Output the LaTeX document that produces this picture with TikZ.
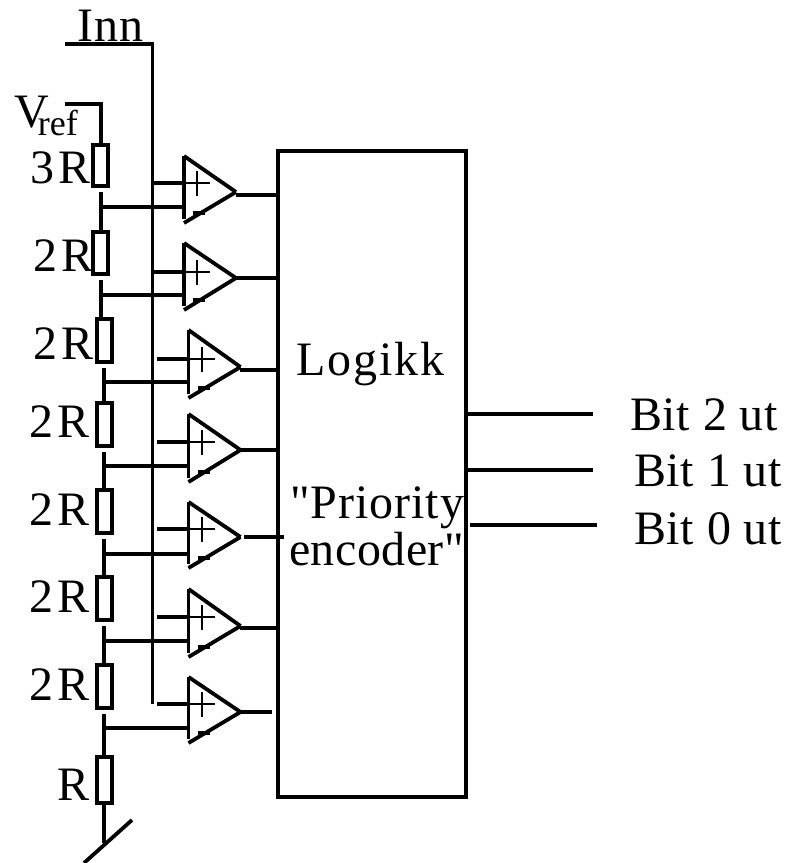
\documentclass[tikz,border=0pt]{standalone}
\usepackage{fontspec}
\setmainfont{Liberation Serif}[Ligatures=TeXOff]
\usetikzlibrary{calc}

\tikzset{
	wire/.style={line width=3.8pt},
	sign/.style={line width=2pt},
	resistor/.style={draw, line width=4pt, minimum width=15pt, inner sep=0pt, outer sep=0pt},
	txt/.style={anchor=base west, inner sep=0pt, font=\fontsize{48}{48}\selectfont},
}

\begin{document}
\begin{tikzpicture}[x=1pt, y=-1pt]

	\useasboundingbox (0,0) rectangle (796,863);

	% ---- logic block

	\node[draw, line width=4pt, minimum width=188pt, minimum height=646pt, inner sep=0pt, outer sep=0pt] (logikk) at (372,473.5) {};

	% ---- resistors

	\foreach \i/\rx/\ry/\rh in {1/100.7/165.5/41, 2/100.7/253/42, 3/104.3/340.5/43, 4/104.3/424.5/43,
		5/104.3/511.5/43, 6/104.3/598.5/43, 7/104.3/686.5/43, 8/104.3/780/46} {
		\node[resistor, minimum height=\rh pt] (R\i) at (\rx,\ry) {};
	}

	% ---- resistor chain

	\coordinate (Vin) at (65,104);
	\coordinate (Gnd) at (104.3,843);

	\draw[wire] (Vin) -- (R1.north |- Vin) -- (R1.north);

	\foreach \i/\j in {1/2,2/3,3/4,4/5,5/6,6/7,7/8} {
		\draw[wire] ($(R\i.south)+(0,6)$) -- (R\i.south |- R\j.north);
	}

	\draw[wire] (R8.south) -- (Gnd);
	\draw[wire] (84,863) -- (132,820);

	% ---- input line

	\coordinate (In) at (65,44);
	\coordinate (Ie) at (152.5,704);

	\draw[wire] (In) -- (Ie |- In) -- (Ie);

	% ---- comparators

	\foreach \i/\rx/\tap/\plus/\ox/\top/\tipy/\bot/\outy/\outa/\outb/\ina in {
		1/100.7/207/183/184/156/192/223/195/236/277/153,
		2/100.7/295/272/184/243/278/310/278/236/277/153,
		3/104.3/382/359/188.5/330/367/398/370/240/277/157,
		4/104.3/466/442/188.5/414/450/482/450/240/277/157,
		5/104.3/554/529/188.5/502/537/568/537/244/284/157,
		6/104.3/641/617/188.5/589/626/657/628/240/277/157,
		7/104.3/728/704/188.5/677/712/743/712/240/272/157} {

		\coordinate (A\i) at (\ox,\top);
		\coordinate (B\i) at (\ox,\bot);
		\coordinate (C\i) at (\ox+52,\tipy);

		\draw[wire] (A\i) -- (\ox,\bot-4);
		\draw[wire] (A\i) -- (C\i);
		\draw[wire] (B\i) -- (C\i);

		\draw[wire] (\ina,\plus) -- (\ox,\plus);
		\draw[wire] (\rx,\tap) -- (\ox,\tap);
		\draw[wire] (\outa,\outy) -- (\outb,\outy);

		\draw[sign] (\ox,\plus) -- (\ox+26,\plus);
		\draw[sign] (\ox+13,\plus-12) -- (\ox+13,\plus+13);
		\draw[wire] (\ox+9,\bot-10) -- (\ox+21,\bot-10);
	}

	% ---- outputs

	\draw[wire] (466,414) -- (593,414);
	\draw[wire] (466,470) -- (593,470);
	\draw[wire] (470,525) -- (597,525);

	% ---- labels

	\node[txt] (inn) at (77,41) {\addfontfeatures{LetterSpace=2}Inn};
	\node[txt] (vref) at (14,127) {V\kern-11pt\raisebox{-8pt}{\fontsize{36}{36}\selectfont ref}};

	\node[txt] (l1) at (30,183) {\addfontfeatures{LetterSpace=10}3R};
	\node[txt] (l2) at (33,271) {\addfontfeatures{LetterSpace=10}2R};
	\node[txt] (l3) at (33,359) {\addfontfeatures{LetterSpace=10}2R};

	\foreach \i/\ly in {4/437,5/525,6/612,7/700} {
		\node[txt] (l\i) at (29,\ly) {\addfontfeatures{LetterSpace=10}2R};
	}

	\node[txt] (l8) at (57,800) {R};

	\node[txt] (logic) at (296,375) {\addfontfeatures{LetterSpace=4}Logikk};
	\node[txt] (prio) at (290,518) {\addfontfeatures{LetterSpace=2}"Priority};
	\node[txt] (enc) at (289,565) {\addfontfeatures{LetterSpace=1}encoder"};

	\node[txt] (bit2) at (630,430) {\addfontfeatures{LetterSpace=1.5}Bit 2 ut};
	\node[txt] (bit1) at (634,486) {\addfontfeatures{LetterSpace=1.5}Bit 1 ut};
	\node[txt] (bit0) at (634,544) {\addfontfeatures{LetterSpace=1.5}Bit 0 ut};

\end{tikzpicture}
\end{document}
